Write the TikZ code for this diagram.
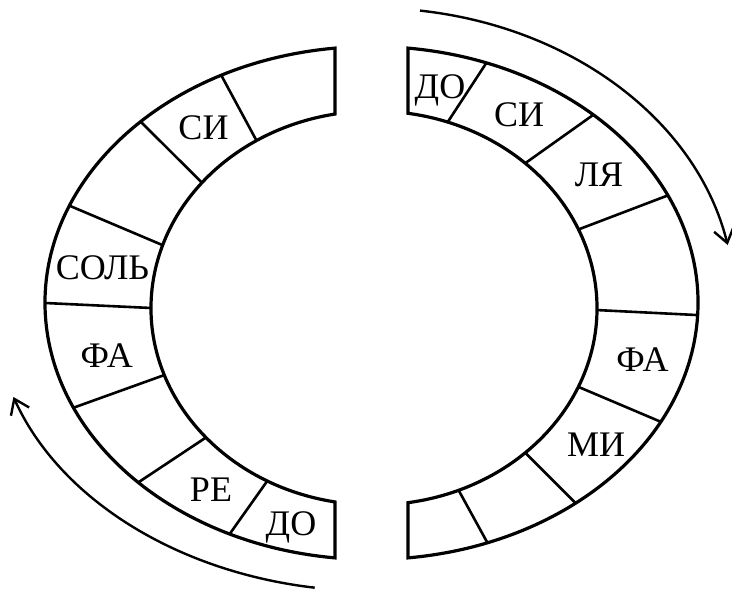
\documentclass[tikz,border=0pt]{standalone}
\usepackage{fontspec}
\setmainfont{Liberation Serif}
\usetikzlibrary{arrows.meta}
\begin{document}
\begin{tikzpicture}[x=0.5pt,y=0.5pt,
		ring/.style={line width=1.6pt},
		divider/.style={line width=1.3pt},
		turn/.style={line width=1.2pt,-{Straight Barb[length=7pt,width=10pt,line width=1.2pt]}},
		note/.style={anchor=base,inner sep=0pt,font=\fontsize{18}{20}\selectfont}]
		\useasboundingbox (0,0) rectangle (732,594);
		\coordinate (Oout) at (371.5,291);
		\coordinate (Oin) at (374,286);
		\coordinate (Oarr) at (372,290);
		% left half
		\draw [ring] ([shift={(Oout)}]96.42:326.5 and 256.5) arc[start angle=96.42, end angle=263.58, x radius=326.5, y radius=256.5]
			-- ([shift={(Oin)}]259.93:223 and 197) arc[start angle=259.93, end angle=100.07, x radius=223, y radius=197] -- cycle;
		% right half
		\draw [ring] ([shift={(Oout)}]83.58:326.5 and 256.5) arc[start angle=83.58, end angle=-83.58, x radius=326.5, y radius=256.5]
			-- ([shift={(Oin)}]-81.23:223 and 197) arc[start angle=-81.23, end angle=81.23, x radius=223, y radius=197] -- cycle;
		\foreach \ao/\ai in {117.4/121.8, 135/140.5, 157.7/161.4, 180/180, 204.1/199.9, 224.4/221.1, 244.25/241.4,
			69.4/70.7, 47.2/47.3, 24.8/23.5, -2.7/-0.6, -27.6/-23.6, -51.3/-47.3, -69.2/-67.7}
			\draw [divider] ([shift={(Oout)}]\ao:326.5 and 256.5) -- ([shift={(Oin)}]\ai:223 and 197);
		% direction arrows
		\draw [turn] ([shift={(Oarr)}]82.4:363 and 296) arc[start angle=82.4, end angle=11.5, x radius=363, y radius=296];
		\draw [turn] ([shift={(Oarr)}]261.3:379 and 287) arc[start angle=261.3, end angle=198.9, x radius=379, y radius=287];
		% note names
		\node [note] (siL) at (203.5,454) {СИ};
		\node [note] (sol) at (102.5,314) {СОЛЬ};
		\node [note] (faL) at (106.7,226) {ФА};
		\node [note] (re) at (211,92.3) {РЕ};
		\node [note] (doL) at (291,59) {ДО};
		\node [note] (doR) at (440,495.7) {ДО};
		\node [note] (siR) at (519,467.3) {СИ};
		\node [note] (lya) at (599,407.3) {ЛЯ};
		\node [note] (faR) at (642.5,222.3) {ФА};
		\node [note] (mi) at (596,137.3) {МИ};
	\end{tikzpicture}
\end{document}
